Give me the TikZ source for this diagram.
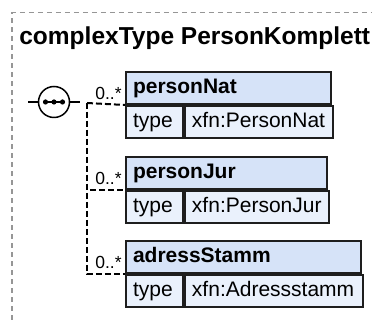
\documentclass[tikz,border=0pt]{standalone}
\usepackage{fontspec}
\setmainfont{Liberation Sans}
\definecolor{headfill}{RGB}{214,227,248}
\definecolor{cellfill}{RGB}{234,241,252}
\definecolor{boxline}{RGB}{30,30,30}
\definecolor{framegray}{RGB}{150,150,150}
\tikzset{every picture/.style={line width=0.75pt}}
\tikzset{
  elhead/.style={draw=boxline, line width=2pt, fill=headfill, anchor=north west, minimum height=32pt, inner xsep=7pt, inner ysep=0pt, text width=#1, align=left, text height=15.5pt, text depth=4pt, font=\bfseries\fontsize{21}{24}\selectfont},
  elcell/.style={draw=boxline, line width=2pt, fill=cellfill, anchor=north west, minimum height=32pt, inner xsep=7pt, inner ysep=0pt, text width=#1, align=left, text height=15.5pt, text depth=4pt, font=\fontsize{21}{24}\selectfont},
  mult/.style={anchor=base east, inner sep=0pt, font=\fontsize{17.5}{20}\selectfont},
  seqcirc/.style={circle, draw, line width=1.5pt, fill=white, minimum size=31pt, inner sep=0pt},
  conn/.style={line width=2pt, dash pattern=on 6pt off 3pt},
}
\begin{document}
\begin{tikzpicture}[x=1pt,y=1pt,yscale=-1,xscale=1]
	\useasboundingbox (0,0) rectangle (376,320);

	%Shape: Frame
	\draw [framegray, line width=1pt, dash pattern=on 5pt off 4pt] (12,320) -- (12,13) -- (372,13) ;

	% Text Node
	\node [anchor=base west, inner sep=0pt, font=\bfseries\fontsize{24.5}{28}\selectfont] (title) at (19,45) {complexType PersonKomplett};

	%Shape: Sequence
	\node [seqcirc] (seq) at (54,102) {};
	\draw [line width=1.5pt] ([xshift=-11pt]seq.center) -- ([xshift=11pt]seq.center) ;
	\foreach \dx in {-8.5,0,8.5}
		\fill ([xshift=\dx pt]seq.center) circle (2.6pt) ;
	\coordinate (seqin) at (28,102);
	\coordinate (seqout) at (80,102);
	\coordinate (fork) at (87,103);
	\draw [line width=1.5pt] (seqin) -- (seq) ;
	\draw [line width=1.5pt] (seq) -- (seqout) ;

	%Shape: personNat
	\node [elhead=191] (natH) at (125,71) {personNat};
	\node [elcell=43] (natT) at (natH.south west) {type};
	\node [elcell=134] (natV) at (natT.north east) {xfn:PersonNat};
	%Shape: personJur
	\node [elhead=187] (jurH) at (125,156) {personJur};
	\node [elcell=43] (jurT) at (jurH.south west) {type};
	\node [elcell=130] (jurV) at (jurT.north east) {xfn:PersonJur};
	%Shape: adressStamm
	\node [elhead=221] (adrH) at (125,240) {adressStamm};
	\node [elcell=43] (adrT) at (adrH.south west) {type};
	\node [elcell=164] (adrV) at (adrT.north east) {xfn:Adressstamm};

	% Connectors
	\draw [conn] (fork) -- (natH.south west) ;
	\draw [conn] (fork) |- (jurH.south west) ;
	\draw [conn] (fork) |- (adrH.south west) ;

	% Text Node
	\node [mult] (natMult) at (122,100) {0..*};
	\node [mult] (jurMult) at (122,185) {0..*};
	\node [mult] (adrMult) at (122,269) {0..*};

\end{tikzpicture}
\end{document}
